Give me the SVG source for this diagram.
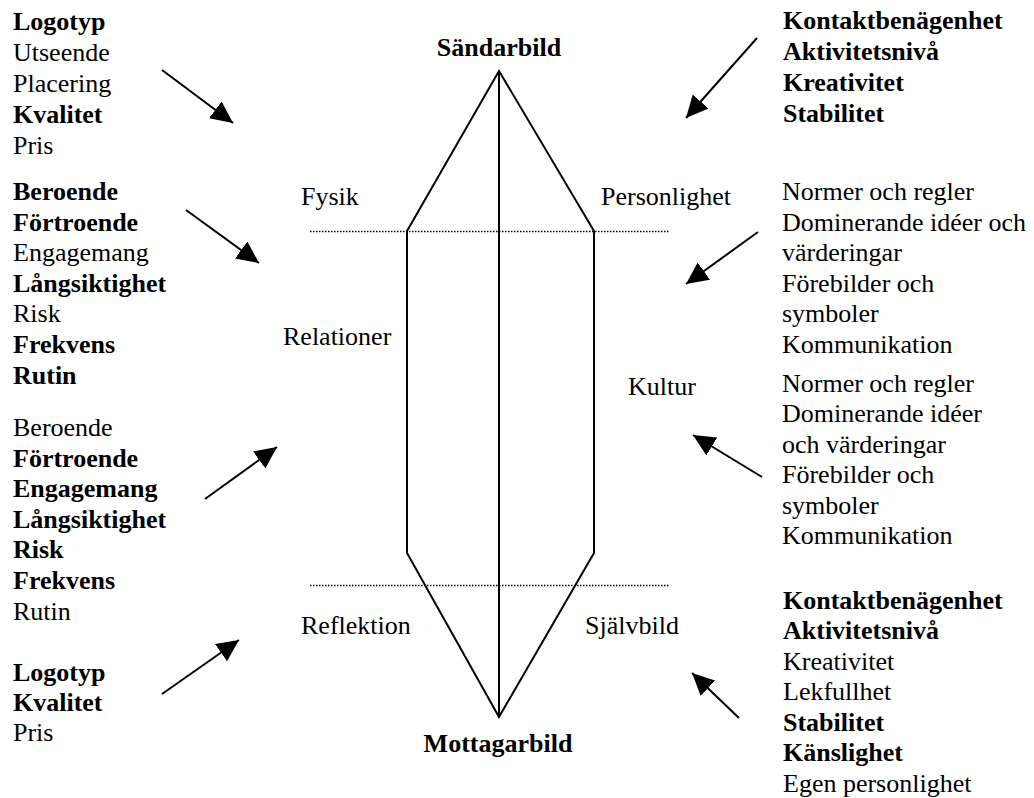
<svg xmlns="http://www.w3.org/2000/svg" width="1034" height="798" viewBox="0 0 1034 798">
  <style>
    text { font-family: "Liberation Serif", "Times New Roman", serif; font-size: 26px; fill: #000; }
    .b { font-weight: bold; }
    .mid { text-anchor: middle; }
    .shape { fill: none; stroke: #000; stroke-width: 2; stroke-linejoin: miter; }
    .dots { stroke: #000; stroke-width: 1.3; stroke-dasharray: 1.5 1.5; }
    .arrow { stroke: #000; stroke-width: 2; fill: none; marker-end: url(#head); }
  </style>
  <defs>
    <marker id="head" markerUnits="userSpaceOnUse" markerWidth="24" markerHeight="22" refX="22" refY="10.5" orient="auto">
      <path d="M0,0 L22,10.5 L0,21 z" fill="#000"/>
    </marker>
  </defs>
  <rect width="1034" height="798" fill="#fff"/>

  <!-- central hexagonal figure with its axis -->
  <g id="figure">
    <polygon class="shape" points="499,71 407,231 407,553 499,717 594,553 594,231"/>
    <line class="shape" x1="499" y1="71" x2="499" y2="717"/>
    <line class="dots" x1="310" y1="231.5" x2="670" y2="231.5"/>
    <line class="dots" x1="310" y1="585.5" x2="670" y2="585.5"/>
  </g>

  <g id="sandarbild"><text class="b mid" x="499" y="56">Sändarbild</text></g>
  <g id="mottagarbild"><text class="b mid" x="498" y="752">Mottagarbild</text></g>
  <g id="fysik"><text x="301" y="205">Fysik</text></g>
  <g id="personlighet"><text x="601" y="205">Personlighet</text></g>
  <g id="relationer"><text x="283" y="345">Relationer</text></g>
  <g id="kultur"><text x="628" y="395">Kultur</text></g>
  <g id="reflektion"><text x="301" y="634">Reflektion</text></g>
  <g id="sjalvbild"><text x="585" y="634">Självbild</text></g>

  <g id="list-fysik-sender">
    <text class="b" x="13" y="30">Logotyp</text>
    <text x="13" y="61">Utseende</text>
    <text x="13" y="92">Placering</text>
    <text class="b" x="13" y="123">Kvalitet</text>
    <text x="13" y="154">Pris</text>
  </g>

  <g id="list-personlighet-sender">
    <text class="b" x="783" y="29">Kontaktbenägenhet</text>
    <text class="b" x="783" y="60">Aktivitetsnivå</text>
    <text class="b" x="783" y="91">Kreativitet</text>
    <text class="b" x="783" y="122">Stabilitet</text>
  </g>

  <g id="list-relationer-sender">
    <text class="b" x="13" y="200">Beroende</text>
    <text class="b" x="13" y="231">Förtroende</text>
    <text x="13" y="261">Engagemang</text>
    <text class="b" x="13" y="292">Långsiktighet</text>
    <text x="13" y="322">Risk</text>
    <text class="b" x="13" y="353">Frekvens</text>
    <text class="b" x="13" y="384">Rutin</text>
  </g>

  <g id="list-kultur-sender">
    <text x="782" y="200">Normer och regler</text>
    <text x="782" y="231">Dominerande idéer och</text>
    <text x="782" y="261">värderingar</text>
    <text x="782" y="292">Förebilder och</text>
    <text x="782" y="322">symboler</text>
    <text x="782" y="353">Kommunikation</text>
  </g>

  <g id="list-kultur-receiver">
    <text x="782" y="392">Normer och regler</text>
    <text x="782" y="422">Dominerande idéer</text>
    <text x="782" y="453">och värderingar</text>
    <text x="782" y="483">Förebilder och</text>
    <text x="782" y="514">symboler</text>
    <text x="782" y="544">Kommunikation</text>
  </g>

  <g id="list-relationer-receiver">
    <text x="13" y="436">Beroende</text>
    <text class="b" x="13" y="467">Förtroende</text>
    <text class="b" x="13" y="497">Engagemang</text>
    <text class="b" x="13" y="528">Långsiktighet</text>
    <text class="b" x="13" y="558">Risk</text>
    <text class="b" x="13" y="589">Frekvens</text>
    <text x="13" y="620">Rutin</text>
  </g>

  <g id="list-sjalvbild">
    <text class="b" x="783" y="609">Kontaktbenägenhet</text>
    <text class="b" x="783" y="639">Aktivitetsnivå</text>
    <text x="783" y="670">Kreativitet</text>
    <text x="783" y="700">Lekfullhet</text>
    <text class="b" x="783" y="731">Stabilitet</text>
    <text class="b" x="783" y="761">Känslighet</text>
    <text x="783" y="792">Egen personlighet</text>
  </g>

  <g id="list-reflektion">
    <text class="b" x="13" y="681">Logotyp</text>
    <text class="b" x="13" y="711">Kvalitet</text>
    <text x="13" y="741">Pris</text>
  </g>

  <!-- arrows from each list toward the figure -->
  <g id="connectors">
    <line class="arrow" x1="162" y1="70" x2="233" y2="123"/>
    <line class="arrow" x1="186" y1="210" x2="259" y2="263"/>
    <line class="arrow" x1="205" y1="499" x2="277" y2="447"/>
    <line class="arrow" x1="162" y1="694" x2="239" y2="640"/>
    <line class="arrow" x1="757" y1="38" x2="686" y2="118"/>
    <line class="arrow" x1="758" y1="232" x2="686" y2="284"/>
    <line class="arrow" x1="762" y1="477" x2="693" y2="435"/>
    <line class="arrow" x1="739" y1="718" x2="692" y2="673"/>
  </g>
</svg>
